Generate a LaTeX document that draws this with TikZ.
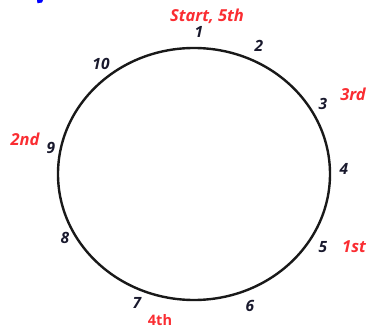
\documentclass[tikz,border=0pt]{standalone}
\usepackage{fontspec}
\setmainfont{Open Sans}
\begin{document}
\begin{tikzpicture}[x=1pt,y=-1pt,
  num/.style={font=\fontsize{15.5}{17}\selectfont\bfseries\itshape, text=numcol, inner sep=0pt},
  ord/.style={font=\fontsize{16.5}{18}\selectfont\bfseries\itshape, text=ordred, inner sep=0pt},
  ordup/.style={font=\fontsize{14.5}{16}\selectfont\bfseries, text=ordred, inner sep=0pt}]
\definecolor{numcol}{RGB}{25,25,45}
\definecolor{ordred}{RGB}{250,45,50}
\useasboundingbox (0,0) rectangle (367,329);
\fill[blue] (37,0) -- (43,0) -- (42,2.5) -- (37.5,3.2) -- cycle;
\draw[line width=2.4pt, black!90] (194,174) ellipse [x radius=136, y radius=126];
\node[num] (n1) at (199,32) {1};
\node[num] (n2) at (259,46) {2};
\node[num] (n3) at (323,104) {3};
\node[num] (n4) at (344,169) {4};
\node[num] (n5) at (323,247) {5};
\node[num] (n6) at (250,306) {6};
\node[num] (n7) at (137,303) {7};
\node[num] (n8) at (65,238) {8};
\node[num] (n9) at (51,148) {9};
\node[num] (n10) at (101,64) {10};
\node[ord] (start) at (207,16) {Start, 5th};
\node[ord] (third) at (353,94) {3rd};
\node[ord] (first) at (354,247) {1st};
\node[ord] (second) at (25,139) {2nd};
\node[ordup] (fourth) at (160,320) {4th};
\end{tikzpicture}
\end{document}
